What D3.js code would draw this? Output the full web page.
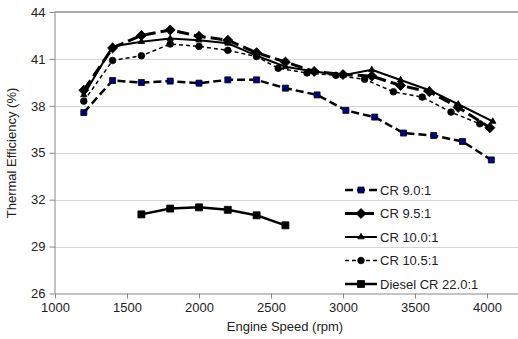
<!DOCTYPE html>
<html lang="en">
  <head>
    <meta charset="utf-8" />
    <title>Thermal Efficiency vs Engine Speed</title>
    <script src="https://d3js.org/d3.v7.min.js"></script>
    <style>
      body {
        margin: 0;
        background: #fff;
      }
      svg {
        display: block;
        font-family: "Liberation Sans", Arial, sans-serif;
      }
      .tick text {
        font-size: 13px;
        fill: #222;
      }
      .axis path, .axis line {
        stroke: #888;
      }
      .grid {
        stroke: #aaa;
        stroke-width: 1;
        stroke-dasharray: 1,1;
      }
      .line {
        fill: none;
        stroke: #000;
      }
    </style>
  </head>
  <body>
    <svg width="518" height="339"></svg>
    <script>

    // compression ratio series, thermal efficiency (%) vs engine speed (rpm)
    var rpm95 = [1200, 1400, 1600, 1800, 2000, 2200, 2400, 2600, 2800, 3000, 3200, 3400, 3600, 3800, 4020];
    var rpm9 = [1200, 1400, 1600, 1800, 2000, 2200, 2400, 2600, 2820, 3020, 3220, 3420, 3630, 3830, 4030];
    var rpm10 = [1200, 1400, 1600, 1800, 2000, 2200, 2400, 2600, 2800, 3000, 3200, 3400, 3600, 3800, 4040];
    var rpm105 = [1200, 1400, 1600, 1800, 2000, 2200, 2400, 2550, 2750, 2950, 3150, 3350, 3550, 3750, 3950];
    var rpmDiesel = [1600, 1800, 2000, 2200, 2400, 2600];

    var cr90 = [37.57, 39.62, 39.49, 39.58, 39.45, 39.66, 39.66, 39.13, 38.70, 37.71, 37.28, 36.26, 36.10, 35.72, 34.54];
    var cr95 = [39.0, 41.7, 42.5, 42.85, 42.45, 42.2, 41.4, 40.8, 40.2, 40.0, 39.9, 39.3, 38.9, 37.9, 36.6];
    var cr100 = [38.7, 41.8, 42.1, 42.3, 42.2, 42.0, 41.2, 40.5, 40.2, 39.95, 40.3, 39.65, 39.0, 38.1, 37.0];
    var cr105 = [38.3, 40.9, 41.2, 41.95, 41.8, 41.55, 41.15, 40.4, 40.1, 39.95, 39.7, 38.9, 38.56, 37.6, 36.85];
    var diesel = [31.06, 31.43, 31.51, 31.35, 31.0, 30.36];

    var xTicks = [1000, 1500, 2000, 2500, 3000, 3500, 4000];
    var yTicks = [26, 29, 32, 35, 38, 41, 44];

    var series = [
      {name: "CR 9.0:1", x: rpm9, y: cr90, width: 2.5, dash: "8,4", marker: "square", size: 6, fill: "#000080"},
      {name: "CR 9.5:1", x: rpm95, y: cr95, width: 3, dash: "12,5", marker: "diamond", size: 8, fill: "#000"},
      {name: "CR 10.0:1", x: rpm10, y: cr100, width: 2, dash: null, marker: "triangle", size: 7, fill: "#000"},
      {name: "CR 10.5:1", x: rpm105, y: cr105, width: 1.5, dash: "4,3", marker: "circle", size: 7, fill: "#000"},
      {name: "Diesel CR 22.0:1", x: rpmDiesel, y: diesel, width: 2.5, dash: null, marker: "square", size: 7, fill: "#000"}
    ];

    var svg = d3.select("svg"),
        margin = {top: 12, left: 54.5, bottom: 293.5};

    var x = d3.scaleLinear().domain([1000, 4500]).range([55, 559]),
        y = d3.scaleLinear().domain([26, 44]).range([293.5, 12]);

    // gridlines
    svg.append("g").selectAll("line")
        .data(yTicks.slice(1, -1))
        .enter().append("line")
        .attr("class", "grid")
        .attr("x1", margin.left).attr("x2", 518)
        .attr("y1", function(d) { return Math.round(y(d)) + 0.5; })
        .attr("y2", function(d) { return Math.round(y(d)) + 0.5; });

    // top border
    svg.append("line")
        .attr("x1", margin.left).attr("x2", 518)
        .attr("y1", 12).attr("y2", 12)
        .attr("stroke", "#aaa").attr("stroke-width", 2);

    svg.append("g")
        .attr("class", "axis")
        .attr("transform", "translate(0," + margin.bottom + ")")
        .call(d3.axisBottom(x).tickValues(xTicks).tickFormat(d3.format("d"))
          .tickSize(5).tickPadding(4).tickSizeOuter(0));

    svg.append("g")
        .attr("class", "axis")
        .attr("transform", "translate(" + margin.left + ",0)")
        .call(d3.axisLeft(y).tickValues(yTicks).tickSize(5).tickPadding(4).tickSizeOuter(0));

    svg.selectAll(".axis .domain").attr("stroke", "#888");

    svg.append("text")
        .attr("x", 285).attr("y", 331)
        .attr("text-anchor", "middle")
        .style("font-size", "13px").style("fill", "#222")
        .text("Engine Speed (rpm)");

    svg.append("text")
        .attr("transform", "translate(16,153) rotate(-90)")
        .attr("text-anchor", "middle")
        .style("font-size", "13px").style("fill", "#222")
        .text("Thermal Efficiency (%)");

    var symbols = {
      square: d3.symbolSquare,
      diamond: d3.symbolDiamond2,
      triangle: d3.symbolTriangle2,
      circle: d3.symbolCircle
    };

    function markerPath(s) {
      return d3.symbol().type(symbols[s.marker]).size(s.size * s.size * (s.marker === "circle" ? 0.7 : s.marker === "triangle" ? 0.6 : 1))();
    }

    var line = d3.line()
        .x(function(d) { return x(d[0]); })
        .y(function(d) { return y(d[1]); });

    series.forEach(function(s) {
      var pts = s.x.map(function(v, i) { return [v, s.y[i]]; });
      var g = svg.append("g");
      g.append("path")
          .attr("class", "line")
          .attr("d", line(pts))
          .attr("stroke-width", s.width)
          .attr("stroke-dasharray", s.dash);
      g.selectAll("path.pt")
          .data(pts)
          .enter().append("path")
          .attr("class", "pt")
          .attr("d", markerPath(s))
          .attr("transform", function(d) { return "translate(" + x(d[0]) + "," + y(d[1]) + ")"; })
          .attr("fill", s.fill)
          .attr("stroke", "#000")
          .attr("stroke-width", 0.8);
    });

    // legend
    var legend = svg.append("g").attr("transform", "translate(345,190)");
    var item = legend.selectAll("g")
        .data(series)
        .enter().append("g")
        .attr("transform", function(d, i) { return "translate(0," + (i * 23.5) + ")"; });

    item.append("line")
        .attr("x1", 0).attr("x2", 32)
        .attr("stroke", "#000")
        .attr("stroke-width", function(d) { return d.width; })
        .attr("stroke-dasharray", function(d) { return d.dash; });

    item.append("path")
        .attr("d", markerPath)
        .attr("transform", "translate(16,0)")
        .attr("fill", function(d) { return d.fill; })
        .attr("stroke", "#000")
        .attr("stroke-width", 0.8);

    item.append("text")
        .attr("x", 35).attr("dy", "0.35em")
        .style("font-size", "13px").style("fill", "#222")
        .text(function(d) { return d.name; });

    </script>
  </body>
</html>
